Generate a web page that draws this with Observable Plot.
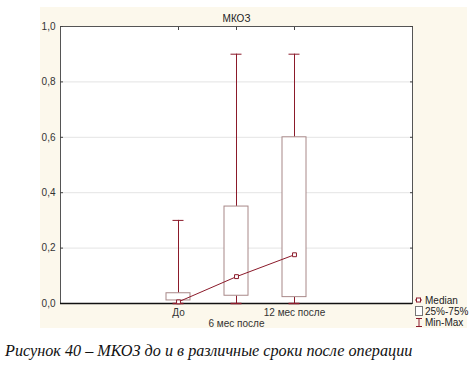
<!DOCTYPE html>
<html>
<head>
<meta charset="utf-8">
<script src="https://cdn.jsdelivr.net/npm/d3@7"></script>
<script src="https://cdn.jsdelivr.net/npm/@observablehq/plot@0.6"></script>
<style>
  html, body { margin: 0; padding: 0; background: #fff; }
  #wrap { position: relative; width: 474px; height: 365px; overflow: hidden; }
  #panel { position: absolute; left: 40px; top: 7px; width: 427px; height: 321px; background: #fcf8ec; }
  #chart { position: absolute; left: 0; top: 0; }
  #legend { position: absolute; left: 410px; top: 292px; }
  #caption { position: absolute; left: 5px; top: 342px; white-space: nowrap;
    font-family: "Liberation Serif", "DejaVu Serif", serif; font-style: italic; font-size: 16.2px; color: #111; }
</style>
</head>
<body>
<div id="wrap">
  <div id="panel"></div>
  <div id="chart"></div>
  <svg id="legend" width="62" height="36" font-family="Liberation Sans, Arial, sans-serif" font-size="10" fill="#222">
    <line x1="5" y1="8" x2="12" y2="8" stroke="#8b1a2a" stroke-width="1"/>
    <rect x="6.5" y="6" width="4" height="4" fill="#fff" stroke="#8b1a2a"/>
    <text x="15" y="11.5">Median</text>
    <rect x="5.5" y="14.5" width="7" height="9" fill="#fff" stroke="#777"/>
    <text x="15" y="23">25%-75%</text>
    <line x1="6" y1="26.5" x2="12" y2="26.5" stroke="#8b1a2a"/>
    <line x1="9" y1="26.5" x2="9" y2="34.5" stroke="#8b1a2a"/>
    <line x1="6" y1="34.5" x2="12" y2="34.5" stroke="#8b1a2a"/>
    <text x="15" y="34">Min-Max</text>
  </svg>
  <div id="caption">Рисунок 40 – МКОЗ до и в различные сроки после операции</div>
</div>
<script>
const title = "МКОЗ";
const categories = ["До", "6 мес после", "12 мес после"];
const mins    = [0.0, 0.0, 0.0];
const q1s     = [0.011, 0.028, 0.023];
const medians = [0.006, 0.097, 0.176];
const q3s     = [0.037, 0.35, 0.60];
const maxs    = [0.30, 0.90, 0.90];
const yTicks  = [0, 0.2, 0.4, 0.6, 0.8, 1.0];

const data = categories.map((c, i) => ({
  cat: c, min: mins[i], q1: q1s[i], med: medians[i], q3: q3s[i], max: maxs[i]
}));

const whisker = "#8b1a2a";
const boxStroke = "#a88888";
const fmt = d => d.toFixed(1).replace(".", ",");

const chart = Plot.plot({
  width: 474,
  height: 335,
  marginLeft: 60,
  marginRight: 62,
  marginTop: 26,
  marginBottom: 32,
  style: { background: "transparent", fontFamily: "Liberation Sans, Arial, sans-serif", fontSize: "10px", color: "#333" },
  x: { type: "band", domain: categories, paddingInner: 0.59, paddingOuter: 1.795, align: 0.5 },
  y: { domain: [0, 1] },
  marks: [
    Plot.frame({ fill: "#fff", stroke: "none" }),
    Plot.gridY(yTicks.filter(d => d > 0 && d < 1), { stroke: "#e4e4e4", strokeOpacity: 1 }),
    Plot.frame({ stroke: "#555" }),
    Plot.axisY({ anchor: "left", ticks: yTicks, tickSize: 0, tickPadding: 5, tickFormat: fmt, label: null }),
    Plot.axisY({ anchor: "left", ticks: yTicks, tickSize: -3, tickFormat: () => "", label: null, stroke: "#444" }),
    Plot.axisY({ anchor: "right", ticks: yTicks, tickSize: -3, tickFormat: () => "", label: null, stroke: "#444" }),
    Plot.axisX({ anchor: "top", tickSize: -3, tickFormat: () => "", label: null, stroke: "#444" }),
    Plot.axisX({ anchor: "bottom", ticks: [categories[0], categories[2]], tickSize: 0, tickPadding: 5, label: null }),
    Plot.axisX({ anchor: "bottom", ticks: [categories[1]], tickSize: 0, tickPadding: 16, label: null }),
    Plot.ruleY([0], { stroke: "#111", strokeWidth: 1.5 }),
    // whiskers
    Plot.ruleX(data, { x: "cat", y1: "q3", y2: "max", stroke: whisker }),
    Plot.ruleX(data, { x: "cat", y1: "min", y2: "q1", stroke: whisker }),
    Plot.tickY(data, { x: "cat", y: "max", stroke: whisker, insetLeft: 6.5, insetRight: 6.5 }),
    Plot.tickY(data, { x: "cat", y: "min", stroke: whisker, insetLeft: 6.5, insetRight: 6.5, strokeWidth: 1.5 }),
    // boxes
    Plot.barY(data, { x: "cat", y1: "q1", y2: "q3", fill: "#fff", stroke: boxStroke }),
    // median line
    Plot.line(data, { x: "cat", y: "med", stroke: whisker, strokeWidth: 1 }),
    Plot.dot(data, { x: "cat", y: "med", symbol: "square", r: 2.2, fill: "#fff", stroke: whisker, strokeWidth: 1 }),
    Plot.text([title], { frameAnchor: "top", dy: -12, fill: "#222", fontSize: 10 })
  ]
});
document.getElementById("chart").appendChild(chart);
</script>
</body>
</html>
